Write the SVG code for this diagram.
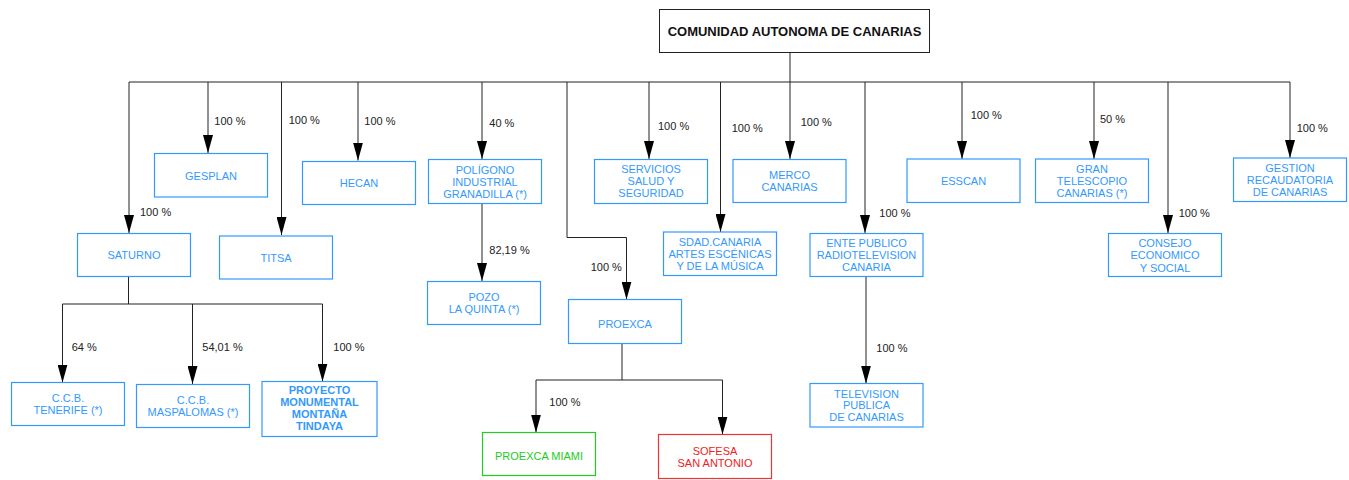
<svg xmlns="http://www.w3.org/2000/svg" width="1349" height="480" viewBox="0 0 1349 480">
<style>
.bx{fill:#fff;stroke:#3399ff;stroke-width:1.2}
.nt{font-family:"Liberation Sans",Arial,sans-serif;font-size:11px;fill:#3399ff;text-anchor:middle}
.lb{font-family:"Liberation Sans",Arial,sans-serif;font-size:11px;fill:#222}
.ln{fill:none;stroke:#222;stroke-width:1}
.ar{fill:none;stroke:#222;stroke-width:1;marker-end:url(#ah)}
</style>
<defs>
<marker id="ah" viewBox="0 0 10 18" refX="5" refY="18" markerWidth="10" markerHeight="18" markerUnits="userSpaceOnUse" orient="0">
<path d="M0,0 L10,0 L5,18 z" fill="#000"/>
</marker>
</defs>
<rect width="1349" height="480" fill="#fff"/>
<g id="connectors">
<path class="ln" d="M790,52.5 V82 M129,82 H1290"/>
<path class="ar" d="M129,82 V233"/>
<path class="ar" d="M208,82 V153"/>
<path class="ar" d="M281.5,82 V235"/>
<path class="ar" d="M358,82 V160.5"/>
<path class="ar" d="M482,82 V159"/>
<path class="ar" d="M567,82 V237.5 H626.5 V299.5"/>
<path class="ar" d="M649,82 V159"/>
<path class="ar" d="M720.5,82 V232"/>
<path class="ar" d="M790,82 V159"/>
<path class="ar" d="M865,82 V233"/>
<path class="ar" d="M962,82 V159"/>
<path class="ar" d="M1094,82 V159"/>
<path class="ar" d="M1168,82 V233"/>
<path class="ar" d="M1290,82 V158"/>
<path class="ar" d="M482,203.5 V281"/>
<path class="ln" d="M128.5,276.5 V304 M62.5,304 H322.5"/>
<path class="ar" d="M62.5,304 V382.5"/>
<path class="ar" d="M192.5,304 V384"/>
<path class="ar" d="M322.5,304 V381.5"/>
<path class="ln" d="M622,343.5 V380 M536,380 H722.5"/>
<path class="ar" d="M536,380 V432.5"/>
<path class="ar" d="M722.5,380 V434.5"/>
<path class="ar" d="M866,276.5 V383.5"/>
<g class="lb">
<text x="140" y="215.7">100 %</text>
<text x="214.3" y="125">100 %</text>
<text x="288.7" y="124">100 %</text>
<text x="364.3" y="125">100 %</text>
<text x="489.3" y="126.7">40 %</text>
<text x="489.3" y="254">82,19 %</text>
<text x="590.7" y="271.3">100 %</text>
<text x="658" y="130">100 %</text>
<text x="731.7" y="132.3">100 %</text>
<text x="800.7" y="126.3">100 %</text>
<text x="879.3" y="217.3">100 %</text>
<text x="970.7" y="119">100 %</text>
<text x="1100" y="123.3">50 %</text>
<text x="1178.7" y="217.3">100 %</text>
<text x="1296.7" y="132.3">100 %</text>
<text x="71.7" y="350.7">64 %</text>
<text x="202.3" y="350.7">54,01 %</text>
<text x="333.3" y="350.7">100 %</text>
<text x="549.3" y="405.7">100 %</text>
<text x="876.3" y="352.3">100 %</text>
</g>
</g>
<g id="n-comunidad">
<rect x="659.5" y="9.5" width="270" height="43" fill="#fff" stroke="#222" stroke-width="1"/>
<text x="794.5" y="36.3" font-family="'Liberation Sans',Arial,sans-serif" font-size="13" font-weight="bold" fill="#111" text-anchor="middle">COMUNIDAD AUTONOMA DE CANARIAS</text>
</g>
<g id="n-saturno"><rect class="bx" x="77.5" y="233.5" width="113" height="43"/><text class="nt" x="134" y="259">SATURNO</text></g>
<g id="n-gesplan"><rect class="bx" x="154.5" y="153.5" width="113" height="43.5"/><text class="nt" x="211" y="180">GESPLAN</text></g>
<g id="n-titsa"><rect class="bx" x="219.5" y="236" width="113" height="43"/><text class="nt" x="276" y="261.7">TITSA</text></g>
<g id="n-hecan"><rect class="bx" x="302.5" y="161.5" width="113" height="43"/><text class="nt" x="359" y="186.7">HECAN</text></g>
<g id="n-poligono"><rect class="bx" x="428.5" y="159.5" width="113" height="44"/><text class="nt" x="485" y="173.5">POLÍGONO</text><text class="nt" x="485" y="185.5">INDUSTRIAL</text><text class="nt" x="485" y="197.5">GRANADILLA (*)</text></g>
<g id="n-pozo"><rect class="bx" x="427.5" y="281.5" width="113" height="43"/><text class="nt" x="484" y="300.7">POZO</text><text class="nt" x="484" y="312.5">LA QUINTA (*)</text></g>
<g id="n-proexca"><rect class="bx" x="568.5" y="299.5" width="113" height="44"/><text class="nt" x="625" y="328.3">PROEXCA</text></g>
<g id="n-servicios"><rect class="bx" x="594.5" y="159.5" width="113" height="44"/><text class="nt" x="651" y="173">SERVICIOS</text><text class="nt" x="651" y="185">SALUD Y</text><text class="nt" x="651" y="197">SEGURIDAD</text></g>
<g id="n-sdad"><rect class="bx" x="663.5" y="232" width="113" height="43.5"/><text class="nt" x="720" y="246">SDAD.CANARIA</text><text class="nt" x="720" y="258">ARTES ESCÉNICAS</text><text class="nt" x="720" y="270">Y DE LA MÚSICA</text></g>
<g id="n-merco"><rect class="bx" x="733" y="159.5" width="113" height="43"/><text class="nt" x="789.5" y="179">MERCO</text><text class="nt" x="789.5" y="191">CANARIAS</text></g>
<g id="n-ente"><rect class="bx" x="810" y="233.5" width="113" height="43"/><text class="nt" x="866.5" y="247">ENTE PUBLICO</text><text class="nt" x="866.5" y="259">RADIOTELEVISION</text><text class="nt" x="866.5" y="271">CANARIA</text></g>
<g id="n-television"><rect class="bx" x="810" y="383.5" width="113" height="43.5"/><text class="nt" x="866.5" y="397.5">TELEVISION</text><text class="nt" x="866.5" y="409">PUBLICA</text><text class="nt" x="866.5" y="421">DE CANARIAS</text></g>
<g id="n-esscan"><rect class="bx" x="907" y="159" width="113" height="43.5"/><text class="nt" x="963.5" y="185">ESSCAN</text></g>
<g id="n-gran"><rect class="bx" x="1035.5" y="159" width="113" height="43.5"/><text class="nt" x="1092" y="173">GRAN</text><text class="nt" x="1092" y="185">TELESCOPIO</text><text class="nt" x="1092" y="197">CANARIAS (*)</text></g>
<g id="n-consejo"><rect class="bx" x="1108.5" y="233.5" width="113" height="43"/><text class="nt" x="1165" y="247">CONSEJO</text><text class="nt" x="1165" y="259">ECONOMICO</text><text class="nt" x="1165" y="271.5">Y SOCIAL</text></g>
<g id="n-gestion"><rect class="bx" x="1233.5" y="158" width="113" height="43.5"/><text class="nt" x="1290" y="172">GESTION</text><text class="nt" x="1290" y="184">RECAUDATORIA</text><text class="nt" x="1290" y="196">DE CANARIAS</text></g>
<g id="n-tenerife"><rect class="bx" x="11.5" y="382.5" width="113" height="43"/><text class="nt" x="68" y="401.5">C.C.B.</text><text class="nt" x="68" y="414">TENERIFE (*)</text></g>
<g id="n-maspalomas"><rect class="bx" x="136.5" y="384.5" width="113" height="43"/><text class="nt" x="193" y="404">C.C.B.</text><text class="nt" x="193" y="416.3">MASPALOMAS (*)</text></g>
<g id="n-proyecto"><rect class="bx" x="262" y="381.5" width="115" height="55"/><g class="nt" font-weight="bold"><text x="319.5" y="394">PROYECTO</text><text x="319.5" y="406">MONUMENTAL</text><text x="319.5" y="418">MONTAÑA</text><text x="319.5" y="430">TINDAYA</text></g></g>
<g id="n-miami"><rect x="482.5" y="432.5" width="113" height="43" fill="#fff" stroke="#22cc22" stroke-width="1.2"/><text class="nt" x="539" y="459.7" style="fill:#22cc22">PROEXCA MIAMI</text></g>
<g id="n-sofesa"><rect x="658.5" y="434.5" width="113" height="44" fill="#fff" stroke="#ee3333" stroke-width="1.2"/><text class="nt" x="715" y="455" style="fill:#ee2222">SOFESA</text><text class="nt" x="715" y="466.7" style="fill:#ee2222">SAN ANTONIO</text></g>
</svg>
